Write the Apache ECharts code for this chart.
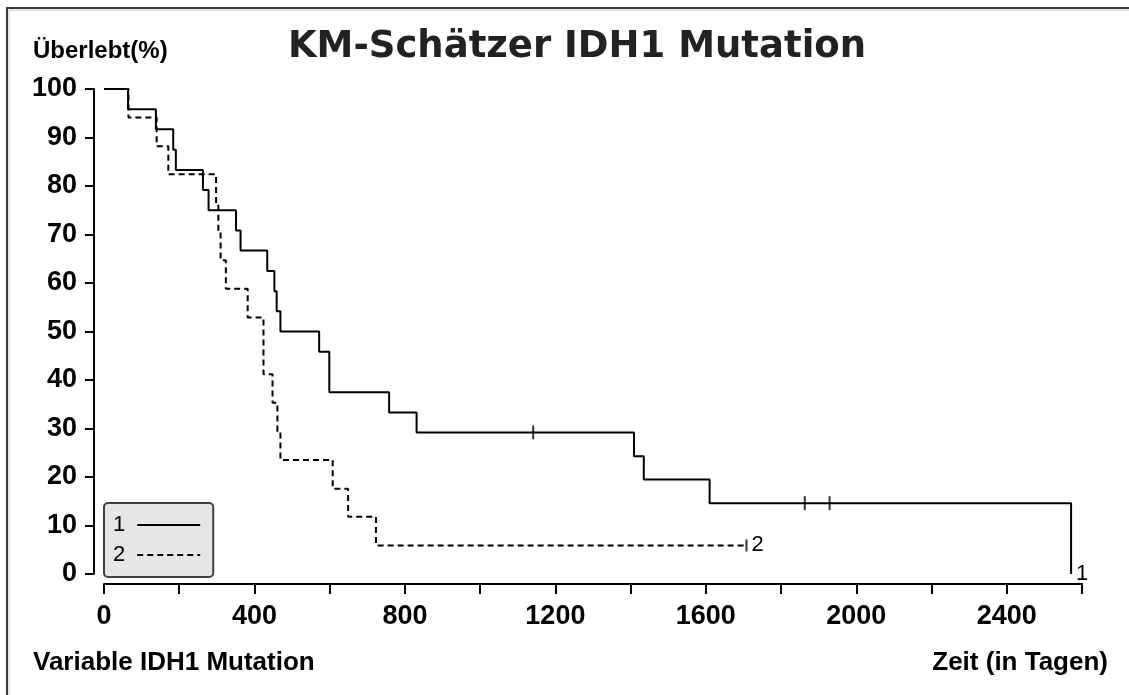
<!DOCTYPE html>
<html>
<head>
<meta charset="utf-8">
<script src="https://cdn.jsdelivr.net/npm/echarts@6/dist/echarts.min.js"></script>
<style>
  html, body { margin: 0; padding: 0; background: #fff; }
  #chart { width: 1129px; height: 695px; }
</style>
</head>
<body>
<div id="chart"></div>
<script>
// ---- data ----
const seriesNames = ['1', '2'];
// group 1 (solid): event times (days) and survival (%)
const timesA = [0, 64, 138, 184, 191, 263, 278, 351, 363, 434, 453, 459, 469, 572, 599, 758, 831, 1409, 1435, 1610, 2571];
const survA  = [100, 95.8, 91.7, 87.5, 83.3, 79.2, 75.0, 70.8, 66.7, 62.5, 58.3, 54.2, 50.0, 45.8, 37.5, 33.3, 29.2, 24.3, 19.5, 14.6, 0];
const censorTimesA = [1141, 1863, 1929];
const censorSurvA  = [29.2, 14.6, 14.6];
// group 2 (dashed)
const timesB = [0, 65, 140, 171, 298, 304, 310, 324, 382, 424, 448, 461, 469, 608, 649, 723, 1708];
const survB  = [100, 94.1, 88.2, 82.4, 76.5, 70.6, 64.7, 58.8, 52.9, 41.2, 35.3, 29.4, 23.5, 17.6, 11.8, 5.9, 5.9];
const censorTimesB = [1708];
const censorSurvB  = [5.9];
// axes
const xMin = 0, xMax = 2600, xTickStep = 200, xLabelStep = 400;
const yMin = 0, yMax = 100, yTickStep = 10;
const titleText = 'KM-Schätzer IDH1 Mutation';
const yTitle = 'Überlebt(%)';
const footLeft = 'Variable IDH1 Mutation';
const footRight = 'Zeit (in Tagen)';

const zip = (xs, ys) => xs.map((x, i) => [x, ys[i]]);

const chart = echarts.init(document.getElementById('chart'), null, { renderer: 'canvas' });
const lib = "'Liberation Sans', Arial, sans-serif";

chart.setOption({
  backgroundColor: '#ffffff',
  animation: false,
  title: [
    { text: titleText, left: 577, top: 29, padding: 0, textAlign: 'center',
      textStyle: { fontFamily: 'DejaVu Sans', fontWeight: 'bold', fontSize: 37, color: '#222' } },
    { text: yTitle, left: 33, top: 39, padding: 0,
      textStyle: { fontFamily: lib, fontWeight: 'bold', fontSize: 24, color: '#000' } },
    { text: footLeft, left: 33, top: 650, padding: 0,
      textStyle: { fontFamily: lib, fontWeight: 'bold', fontSize: 26, color: '#000' } },
    { text: footRight, right: 21, top: 650, padding: 0,
      textStyle: { fontFamily: lib, fontWeight: 'bold', fontSize: 26, color: '#000' } }
  ],
  graphic: [
    { type: 'polyline', silent: true, shape: { points: [[7, 695], [7, 8], [1129, 8]] },
      style: { stroke: '#3a3a3a', lineWidth: 2, fill: null } },
    { type: 'polyline', silent: true, shape: { points: [[9, 695], [9, 10], [1129, 10]] },
      style: { stroke: '#c8c8c8', lineWidth: 1, fill: null } }
  ],
  legend: {
    data: seriesNames,
    orient: 'vertical',
    left: 104, top: 503,
    align: 'right',
    padding: [11, 12, 11, 9],
    itemGap: 8,
    itemWidth: 63, itemHeight: 14,
    backgroundColor: '#e6e6e6',
    borderColor: '#404040', borderWidth: 2, borderRadius: 4,
    itemStyle: { opacity: 0 },
    textStyle: { fontFamily: lib, fontSize: 22, color: '#000', padding: [0, 7, 0, 0] }
  },
  grid: { left: 104, right: 47, top: 89, bottom: 121, containLabel: false },
  xAxis: {
    type: 'value', min: xMin, max: xMax, interval: xTickStep, offset: 10,
    axisLine: { show: true, onZero: false, lineStyle: { color: '#000', width: 2 } },
    axisTick: { show: true, length: 10, lineStyle: { color: '#000', width: 2 } },
    splitLine: { show: false },
    axisLabel: {
      margin: 19, color: '#000', fontFamily: lib, fontWeight: 'bold', fontSize: 27,
      formatter: v => (v % xLabelStep === 0 ? String(v) : '')
    }
  },
  yAxis: {
    type: 'value', min: yMin, max: yMax, interval: yTickStep, offset: 10,
    axisLine: { show: true, onZero: false, lineStyle: { color: '#000', width: 2 } },
    axisTick: { show: true, length: 9, lineStyle: { color: '#000', width: 2 } },
    splitLine: { show: false },
    axisLabel: { margin: 17, color: '#000', fontFamily: lib, fontWeight: 'bold', fontSize: 27 }
  },
  series: [
    {
      name: seriesNames[0], type: 'line', step: 'end', symbol: 'none',
      data: zip(timesA, survA),
      lineStyle: { color: '#000', width: 2, type: 'solid' },
      itemStyle: { color: '#000' },
      endLabel: { show: true, formatter: '{a}', distance: 5,
        fontFamily: lib, fontSize: 22, color: '#000' }
    },
    {
      name: seriesNames[1], type: 'line', step: 'end', symbol: 'none',
      data: zip(timesB, survB),
      lineStyle: { color: '#000', width: 2, type: [6, 4] },
      itemStyle: { color: '#000' },
      endLabel: { show: true, formatter: '{a}', distance: 5,
        fontFamily: lib, fontSize: 22, color: '#000' }
    },
    {
      name: 'censA', type: 'scatter', symbol: 'rect', symbolSize: [2, 14],
      data: zip(censorTimesA, censorSurvA), itemStyle: { color: '#000' }
    },
    {
      name: 'censB', type: 'scatter', symbol: 'rect', symbolSize: [2, 12],
      data: zip(censorTimesB, censorSurvB), itemStyle: { color: '#000' }
    }
  ]
});
</script>
</body>
</html>
